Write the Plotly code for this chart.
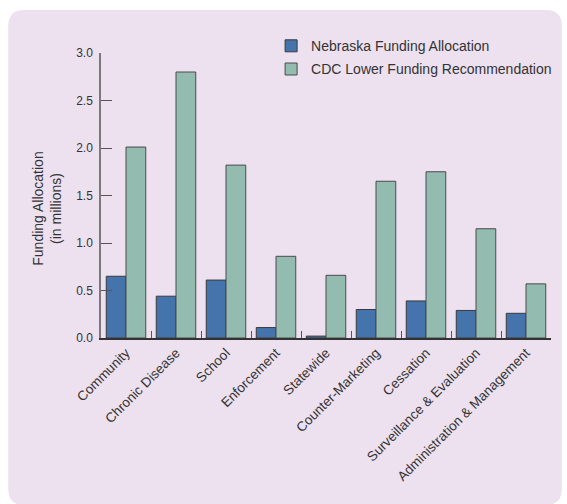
import plotly.graph_objects as go

# Program areas and funding (millions of dollars)
categories = [
    "Community", "Chronic Disease", "School", "Enforcement", "Statewide",
    "Counter-Marketing", "Cessation", "Surveillance & Evaluation",
    "Administration & Management",
]
nebraska = [0.65, 0.44, 0.61, 0.11, 0.02, 0.30, 0.39, 0.29, 0.26]
cdc_lower = [2.01, 2.80, 1.82, 0.86, 0.66, 1.65, 1.75, 1.15, 0.57]
y_ticks = [0.0, 0.5, 1.0, 1.5, 2.0, 2.5, 3.0]

W, H = 567, 504
L, R, T, B = 101, 10, 53, 166
FONT = "Liberation Sans, Arial, Helvetica, sans-serif"
TEXT = "#333333"


def to_paper(px, py):
    """Convert page pixel coordinates to paper coordinates."""
    return (px - L) / (W - L - R), (H - B - py) / (H - T - B)


def rounded_rect(x0, y0, x1, y1, r):
    def P(x, y):
        a, b = to_paper(x, y)
        return f"{a:.5f},{b:.5f}"
    return (
        f"M {P(x0 + r, y0)} L {P(x1 - r, y0)} Q {P(x1, y0)} {P(x1, y0 + r)} "
        f"L {P(x1, y1 - r)} Q {P(x1, y1)} {P(x1 - r, y1)} "
        f"L {P(x0 + r, y1)} Q {P(x0, y1)} {P(x0, y1 - r)} "
        f"L {P(x0, y0 + r)} Q {P(x0, y0)} {P(x0 + r, y0)} Z"
    )


fig = go.Figure()
fig.add_trace(go.Bar(
    x=categories, y=nebraska, name="Nebraska Funding Allocation",
    marker=dict(color="#4573ab", line=dict(color="#3a3a3a", width=1)),
    legendgroup="a",
))
fig.add_trace(go.Bar(
    x=categories, y=cdc_lower, name="CDC Lower Funding Recommendation",
    marker=dict(color="#94bbb0", line=dict(color="#4a4a4a", width=1)),
    legendgroup="b",
))

fig.update_layout(
    width=W, height=H, autosize=False,
    margin=dict(l=L, r=R, t=T, b=B),
    paper_bgcolor="white",
    plot_bgcolor="rgba(0,0,0,0)",
    barmode="group", bargap=0.21, bargroupgap=0,
    font=dict(family=FONT, color=TEXT, size=12),
    showlegend=True,
    legend=dict(
        x=0.378, y=1.08, xanchor="left", yanchor="top",
        bgcolor="rgba(0,0,0,0)", font=dict(size=14, color=TEXT),
        traceorder="grouped", tracegroupgap=2,
    ),
    shapes=[dict(
        type="path", xref="paper", yref="paper", layer="below",
        path=rounded_rect(7, 10, 568, 505, 16),
        fillcolor="#ede1ef", line=dict(width=0),
    )],
    annotations=[dict(
        text="Funding Allocation<br>(in millions)",
        xref="paper", yref="paper",
        x=to_paper(46, 0)[0], y=to_paper(0, 209)[1],
        xanchor="center", yanchor="middle", textangle=-90,
        showarrow=False, font=dict(size=14, color=TEXT),
    )],
)

fig.update_xaxes(
    type="category", showgrid=False, zeroline=False,
    showline=True, linecolor="#333333", linewidth=1.5,
    ticks="inside", tickson="boundaries", ticklen=7, tickwidth=1.2,
    tickcolor="#555555", tickangle=-45,
    tickfont=dict(size=13.5, color=TEXT),
)
fig.update_yaxes(
    range=[0, 3], tickvals=y_ticks, tickformat=".1f",
    showgrid=False, zeroline=False,
    showline=True, linecolor="#7a7a7a", linewidth=1.5,
    ticks="inside", ticklen=11, tickwidth=1.2, tickcolor="#555555",
    tickfont=dict(size=12, color=TEXT), ticklabelstandoff=4,
)

fig.write_html("out.html")
